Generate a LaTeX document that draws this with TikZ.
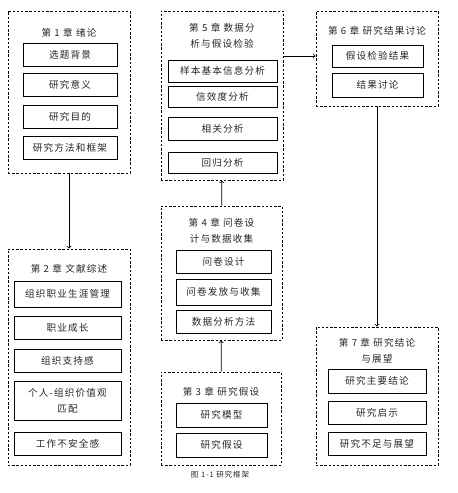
\documentclass[tikz,border=0pt]{standalone}
\usepackage{fontspec}
\setmainfont{Noto Sans CJK SC}[LetterSpace=12]
\begin{document}
\begin{tikzpicture}[
			x=1pt, y=-1pt,
			>=to,
			every node/.style={font=\fontsize{9.6}{16}\selectfont, align=center, text=black!85, inner sep=0pt},
			chap/.style={rectangle, draw, dashed, dash pattern=on 2.4pt off 1.8pt, line width=0.9pt},
			item/.style={rectangle, draw, line width=1pt, minimum height=23}
		]
			\useasboundingbox (0,0) rectangle (458,493);

			% chapter 1
			\node[chap, minimum width=122, minimum height=162] (ch1) at (69,92) {};
			\node (t1) at (69,33) {第 1 章 绪论};
			\node[item, minimum width=94] (bg) at (70,54.5) {选题背景};
			\node[item, minimum width=94] (sig) at (70,85) {研究意义};
			\node[item, minimum width=94] (aim) at (70,116.5) {研究目的};
			\node[item, minimum width=94] (meth) at (70,148) {研究方法和框架};

			% chapter 2
			\node[chap, minimum width=122, minimum height=216] (ch2) at (69,357) {};
			\node (t2) at (69,269) {第 2 章 文献综述};
			\node[item, minimum width=107, minimum height=26] (ocm) at (67.5,294) {组织职业生涯管理};
			\node[item, minimum width=107] (grow) at (67.5,327.5) {职业成长};
			\node[item, minimum width=107] (pos) at (67.5,360.5) {组织支持感};
			\node[item, minimum width=107, minimum height=39] (fit) at (67.5,400.5) {个人-组织价值观\\匹配};
			\node[item, minimum width=107] (jin) at (67.5,443.5) {工作不安全感};

			% chapter 3
			\node[chap, minimum width=120, minimum height=93] (ch3) at (221,418.5) {};
			\node (t3) at (221,392) {第 3 章 研究假设};
			\node[item, minimum width=91, minimum height=24] (model) at (221.5,415) {研究模型};
			\node[item, minimum width=91, minimum height=24] (hypo) at (221.5,445) {研究假设};

			% chapter 4
			\node[chap, minimum width=121, minimum height=134] (ch4) at (221.5,273) {};
			\node (t4) at (221.5,231) {第 4 章 问卷设\\计与数据收集};
			\node[item, minimum width=95] (qd) at (223.5,261.5) {问卷设计};
			\node[item, minimum width=95, minimum height=26] (qc) at (223.5,292) {问卷发放与收集};
			\node[item, minimum width=95] (dam) at (223.5,321.5) {数据分析方法};

			% chapter 5
			\node[chap, minimum width=122, minimum height=169] (ch5) at (222,95.5) {};
			\node (t5) at (222,35.5) {第 5 章 数据分\\析与假设检验};
			\node[item, minimum width=109, minimum height=22] (samp) at (222.5,71) {样本基本信息分析};
			\node[item, minimum width=109, minimum height=21] (rel) at (222.5,96.5) {信效度分析};
			\node[item, minimum width=109] (corr) at (222.5,128.5) {相关分析};
			\node[item, minimum width=109, minimum height=21] (reg) at (222.5,162.5) {回归分析};

			% chapter 6
			\node[chap, minimum width=122, minimum height=95] (ch6) at (377,58.5) {};
			\node (t6) at (377,31) {第 6 章 研究结果讨论};
			\node[item, minimum width=91, minimum height=22] (hres) at (377.5,56) {假设检验结果};
			\node[item, minimum width=91, minimum height=24] (disc) at (377.5,85) {结果讨论};

			% chapter 7
			\node[chap, minimum width=122, minimum height=138] (ch7) at (377,396) {};
			\node (t7) at (377,351) {第 7 章 研究结论\\与展望};
			\node[item, minimum width=98, minimum height=24] (concl) at (377,381) {研究主要结论};
			\node[item, minimum width=98] (impl) at (377,412.5) {研究启示};
			\node[item, minimum width=98] (lim) at (377,443.5) {研究不足与展望};

			\node[font=\fontsize{7.5}{9}\selectfont] (cap) at (220,475) {图 1-1 研究框架};

			\draw[->, line width=0.8pt] (ch1) -- (ch2);
			\draw[->, line width=0.8pt] (ch3) -- (ch4);
			\draw[->, line width=0.8pt] (ch4) -- (ch5);
			\draw[->, line width=0.8pt] (ch5.east |- hres) -- (ch6.west |- hres);
			\draw[->, line width=0.8pt] (ch6) -- (ch7);
		\end{tikzpicture}
\end{document}
